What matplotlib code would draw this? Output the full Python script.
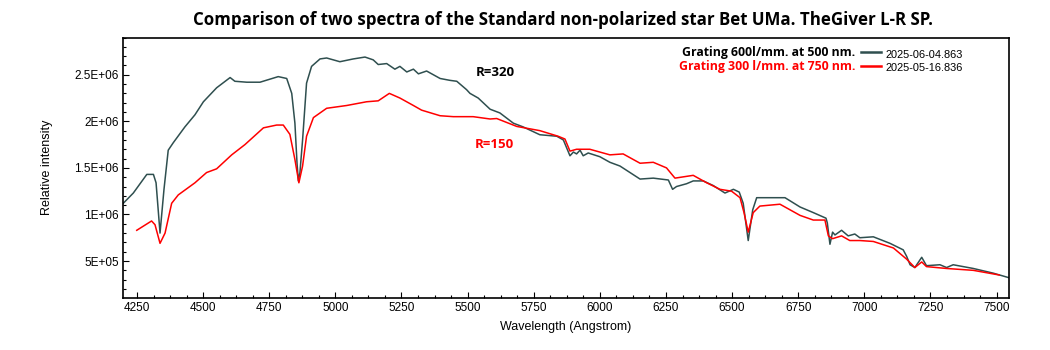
import matplotlib
matplotlib.use("Agg")
import matplotlib.pyplot as plt
from matplotlib.ticker import FixedLocator, MultipleLocator

# --- data (wavelength in Angstrom, intensity in 1e6) ---
gray_wl = [4198, 4236, 4287, 4312, 4322, 4337, 4352, 4368, 4387, 4431, 4469,
           4501, 4551, 4602, 4620, 4665, 4715, 4784, 4816, 4835, 4847, 4855,
           4860, 4866, 4876, 4891, 4910, 4942, 4967, 5017, 5068, 5112, 5143,
           5162, 5194, 5225, 5244, 5270, 5295, 5314, 5345, 5396, 5433, 5459,
           5496, 5509, 5540, 5585, 5622, 5673, 5710, 5773, 5837, 5862, 5887,
           5900, 5912, 5925, 5937, 5956, 6000, 6038, 6076, 6114, 6152, 6202,
           6259, 6275, 6290, 6328, 6353, 6391, 6429, 6473, 6505, 6527, 6542,
           6561, 6578, 6593, 6656, 6700, 6757, 6807, 6855, 6860, 6870, 6880,
           6889, 6914, 6939, 6964, 6983, 7034, 7097, 7147, 7160, 7173, 7191,
           7217, 7235, 7286, 7311, 7336, 7412, 7487, 7548]
gray_val = [1.12, 1.23, 1.43, 1.43, 1.34, 0.80, 1.27, 1.69, 1.77, 1.94, 2.07,
            2.21, 2.36, 2.47, 2.43, 2.42, 2.42, 2.48, 2.46, 2.30, 1.98, 1.55,
            1.36, 1.45, 1.80, 2.41, 2.59, 2.67, 2.68, 2.64, 2.67, 2.69, 2.66,
            2.61, 2.62, 2.56, 2.59, 2.53, 2.56, 2.51, 2.54, 2.46, 2.44, 2.43,
            2.34, 2.30, 2.25, 2.13, 2.09, 1.98, 1.94, 1.856, 1.84, 1.80, 1.63,
            1.67, 1.65, 1.69, 1.63, 1.66, 1.62, 1.56, 1.52, 1.45, 1.38, 1.39,
            1.37, 1.27, 1.30, 1.33, 1.36, 1.36, 1.31, 1.23, 1.27, 1.24, 1.12,
            0.72, 1.05, 1.18, 1.18, 1.18, 1.08, 1.02, 0.96, 0.91, 0.68, 0.81,
            0.78, 0.83, 0.77, 0.79, 0.75, 0.76, 0.69, 0.62, 0.55, 0.46, 0.43,
            0.54, 0.45, 0.46, 0.43, 0.46, 0.42, 0.37, 0.32]

red_wl = [4249, 4305, 4318, 4337, 4356, 4381, 4406, 4469, 4513, 4551, 4608,
          4658, 4728, 4778, 4803, 4828, 4847, 4862, 4876, 4891, 4917, 4967,
          5043, 5118, 5162, 5204, 5244, 5295, 5326, 5396, 5446, 5521, 5585,
          5610, 5686, 5773, 5842, 5868, 5887, 5912, 5962, 6038, 6088, 6152,
          6202, 6252, 6284, 6353, 6404, 6454, 6498, 6530, 6545, 6561, 6580,
          6605, 6681, 6757, 6807, 6851, 6864, 6880, 6914, 6945, 6983, 7034,
          7110, 7160, 7191, 7217, 7235, 7311, 7412, 7510]
red_val = [0.83, 0.93, 0.89, 0.69, 0.80, 1.12, 1.21, 1.34, 1.45, 1.49, 1.64,
           1.75, 1.93, 1.96, 1.96, 1.86, 1.59, 1.34, 1.52, 1.84, 2.04, 2.14,
           2.17, 2.21, 2.22, 2.30, 2.25, 2.17, 2.12, 2.06, 2.05, 2.05, 2.025,
           2.03, 1.945, 1.90, 1.84, 1.81, 1.68, 1.70, 1.70, 1.64, 1.65, 1.55,
           1.56, 1.50, 1.39, 1.42, 1.34, 1.27, 1.25, 1.18, 1.02, 0.81, 1.02,
           1.09, 1.11, 0.99, 0.94, 0.94, 0.77, 0.74, 0.77, 0.72, 0.72, 0.71,
           0.64, 0.52, 0.43, 0.49, 0.44, 0.42, 0.40, 0.35]

gray_label = "Grating 600l/mm. at 500 nm."
red_label = "Grating 300 l/mm. at 750 nm."
gray_date = "2025-06-04.863"
red_date = "2025-05-16.836"
title = ("Comparison of two spectra of the Standard non-polarized star "
         "Bet UMa. TheGiver L-R SP.")
y_ticks = [5e5, 1e6, 1.5e6, 2e6, 2.5e6]
y_ticklabels = ["5E+05", "1E+06", "1.5E+06", "2E+06", "2.5E+06"]
x_ticks = [4250, 4500, 4750, 5000, 5250, 5500, 5750, 6000, 6250, 6500,
           6750, 7000, 7250, 7500]

GRAY = "#2F4F4F"
RED = "#FF0000"

plt.rcParams["font.family"] = ["Liberation Sans", "DejaVu Sans"]

fig = plt.figure(figsize=(10.5, 3.5), dpi=100)
ax = fig.add_axes([123 / 1050, 1 - 298 / 350, 886 / 1050, 260.5 / 350])

l_gray, = ax.plot(gray_wl, [v * 1e6 for v in gray_val], color=GRAY, lw=1.1)
l_red, = ax.plot(red_wl, [v * 1e6 for v in red_val], color=RED, lw=1.1)

ax.set_xlim(4197, 7547)
ax.set_ylim(1.03e5, 2.9e6)

ax.xaxis.set_major_locator(FixedLocator(x_ticks))
ax.xaxis.set_minor_locator(MultipleLocator(62.5))
ax.set_yticks(y_ticks)
ax.set_yticklabels(y_ticklabels)
ax.yaxis.set_minor_locator(MultipleLocator(1e5))

ax.tick_params(which="both", direction="in", labelsize=8.5, colors="black")
ax.tick_params(which="major", length=4.5, width=0.8, pad=3)
ax.tick_params(which="minor", length=2.3, width=0.8)
ax.tick_params(top=False, right=False, which="both")
for sp in ax.spines.values():
    sp.set_linewidth(1.2)

ax.set_xlabel("Wavelength (Angstrom)", fontsize=9)
ax.xaxis.set_label_coords(0.5, -0.111)
ax.xaxis.label.set_va("center")
ax.set_ylabel("Relative intensity", fontsize=9)
ax.yaxis.set_label_coords(-0.086, 0.5)
ax.yaxis.label.set_va("center")

fig.text(563 / 1050, 1 - 20 / 350, title, ha="center", va="center",
         fontsize=12.2, fontweight="bold", family=["Open Sans", "DejaVu Sans"])

leg = ax.legend([l_gray, l_red], [gray_label, red_label], loc="upper right",
                bbox_to_anchor=((881 - 123) / 886, (298 - 46) / 260.5),
                markerfirst=False, frameon=False, borderpad=0,
                borderaxespad=0, handlelength=1.6, handletextpad=0.5,
                labelspacing=0.12,
                prop={"family": "Open Sans", "weight": "bold", "size": 8.8})
leg.get_texts()[1].set_color(RED)
for h in leg.legend_handles:
    h.set_linewidth(1.8)

ax.text((886 - 123) / 886, (298 - 55) / 260.5, gray_date, transform=ax.transAxes,
        ha="left", va="center", fontsize=7.9, color="black")
ax.text((886 - 123) / 886, (298 - 68) / 260.5, red_date, transform=ax.transAxes,
        ha="left", va="center", fontsize=7.9, color="black")

ax.text(5603, 2.52e6, "R=320", ha="center", va="center", fontsize=9.5,
        fontweight="bold", family="Open Sans", color="black")
ax.text(5600, 1.75e6, "R=150", ha="center", va="center", fontsize=9.5,
        fontweight="bold", family="Open Sans", color=RED)

fig.savefig("out.png", dpi=100)
